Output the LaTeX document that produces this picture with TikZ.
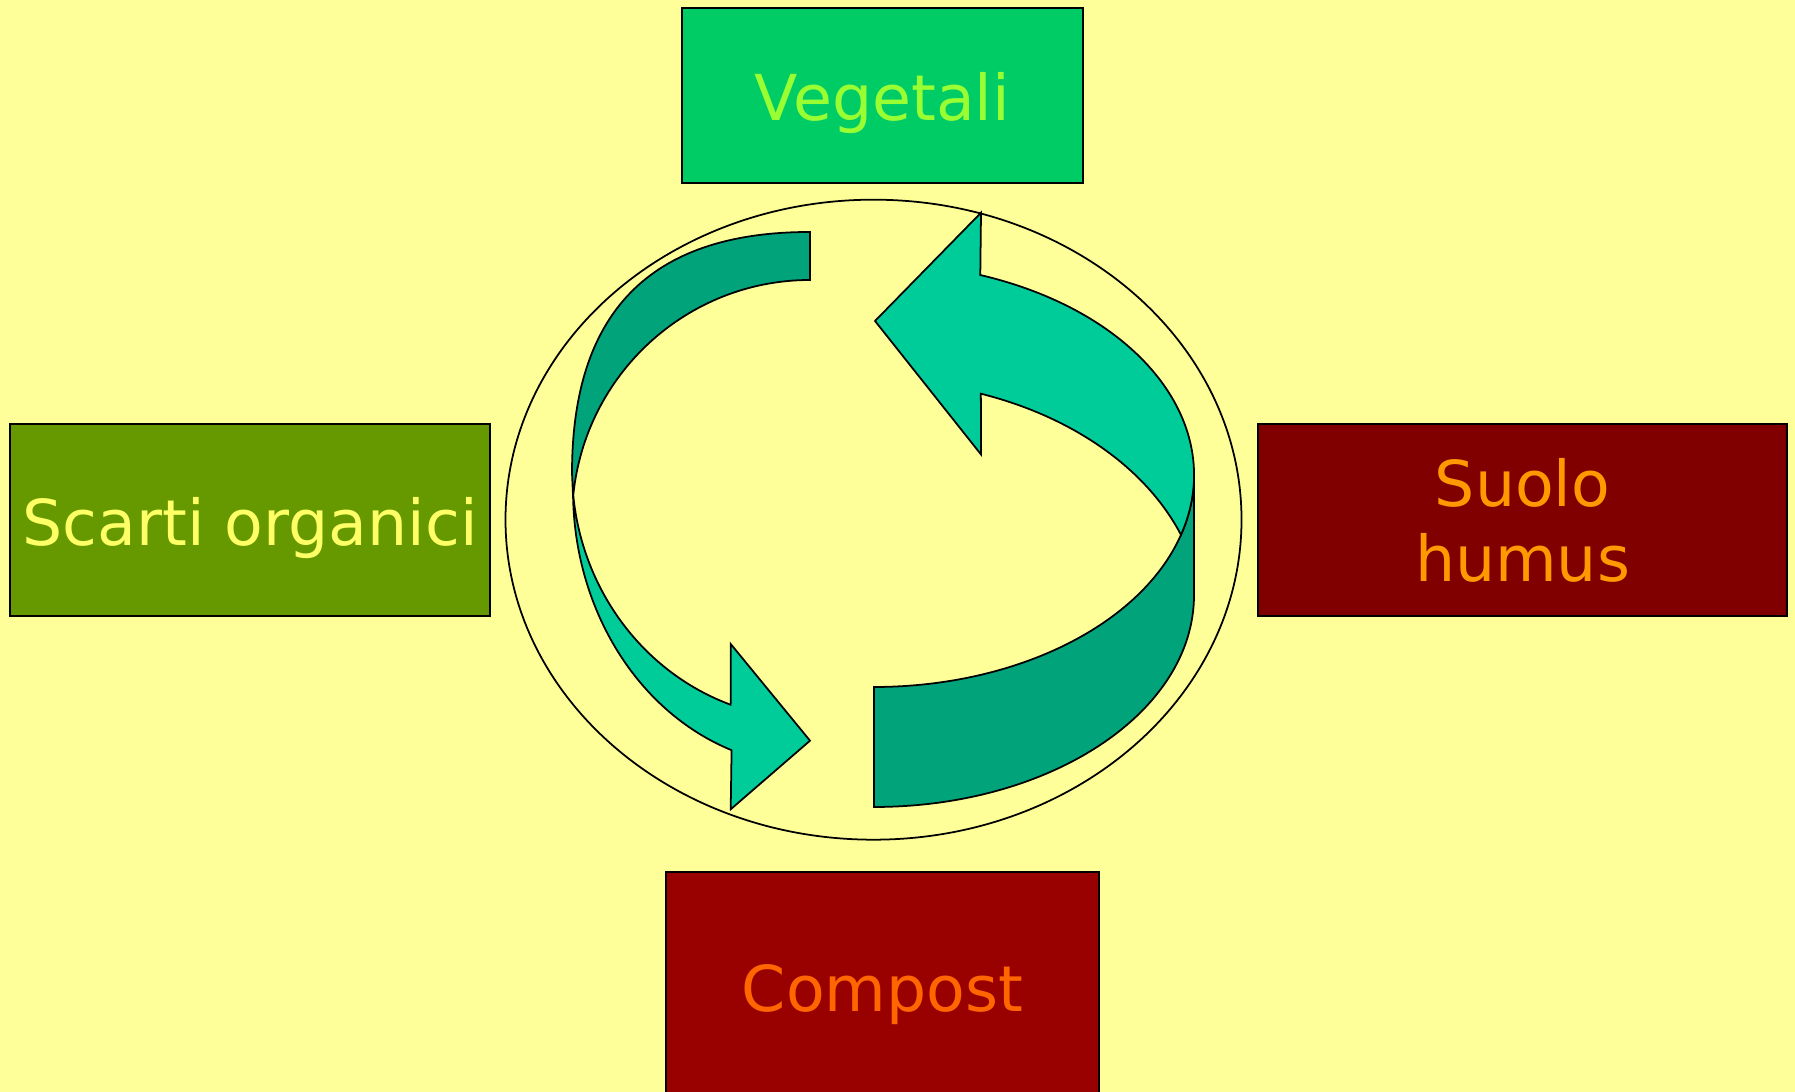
\documentclass[tikz,border=0pt]{standalone}
\usepackage{fontspec}
\setmainfont{DejaVu Sans}
\definecolor{sfondo}{HTML}{FFFF99}
\definecolor{frecciascura}{HTML}{00A37A}
\definecolor{frecciachiara}{HTML}{00CC99}
\definecolor{vegfill}{HTML}{00CC66}
\definecolor{vegtext}{HTML}{99FF33}
\definecolor{scartifill}{HTML}{669900}
\definecolor{scartitext}{HTML}{FFFF66}
\definecolor{suolofill}{HTML}{800000}
\definecolor{suolotext}{HTML}{FF9900}
\definecolor{compostfill}{HTML}{990000}
\definecolor{composttext}{HTML}{FF6600}
\begin{document}
\begin{tikzpicture}[x=0.01cm,y=0.01cm,
      box/.style={draw,line width=0.6pt,inner sep=0pt,
        font=\fontsize{18}{21.3}\selectfont},
      oneline/.style={text height=18pt,text depth=3.6pt},
      ribbon/.style={draw,line width=0.5pt,line join=miter}]
      \useasboundingbox (0,0) rectangle (1795,1092);
      \clip (0,0) rectangle (1795,1092);
      \fill[sfondo] (0,0) rectangle (1795,1092);
      % ellisse
      \coordinate (mid) at (873.5,572.3);
      \draw[line width=0.5pt] (mid) ellipse[x radius=368,y radius=320];
      % freccia a sinistra
      \coordinate (cdi) at (810,572.5);
      \coordinate (cli) at (810,622);
      \coordinate (lx) at ([shift={(174.6:238 and 239.5)}]cdi);
      \draw[ribbon,fill=frecciascura] (810,860) .. controls (670,860) and (572,799) .. (572,619)
        -- (lx) arc[start angle=174.6,end angle=90,x radius=238,y radius=239.5] -- cycle;
      \draw[ribbon,fill=frecciachiara] (lx) arc[start angle=181.25,end angle=250.5,x radius=238,y radius=275]
        -- (730.7,282.7) -- (810,351.3) -- (730.7,448) -- (730.7,389.7)
        -- ([shift={(250.5:238 and 249)}]cli) arc[start angle=250.5,end angle=186.2,x radius=238,y radius=249]
        -- cycle;
      % freccia a destra
      \coordinate (cu) at (874,617);
      \coordinate (rx) at ([shift={(-16.4:320 and 212)}]cu);
      \draw[ribbon,fill=frecciascura] (rx) arc[start angle=-16.4,end angle=-90,x radius=320,y radius=212]
        -- (874,285) arc[start angle=-90,end angle=0,x radius=320,y radius=212]
        -- (1194,617) arc[start angle=0,end angle=-16.4,x radius=320,y radius=212] -- cycle;
      \draw[ribbon,fill=frecciachiara] ([shift={(70.6:320 and 212)}]cu)
        arc[start angle=70.6,end angle=-16.4,x radius=320,y radius=212]
        arc[start angle=20.8,end angle=71,x radius=328.5,y radius=239]
        -- (981,637.5) -- (875,771) -- (981,879.3) -- cycle;
      % riquadri
      \node[box,oneline,fill=vegfill,text=vegtext,minimum width=4.01cm,minimum height=1.75cm]
        (vegetali) at (882.5,996.5) {Vegetali};
      \node[box,oneline,fill=scartifill,text=scartitext,minimum width=4.8cm,minimum height=1.92cm]
        (scarti) at (250,572) {Scarti organici};
      \node[box,align=center,fill=suolofill,text=suolotext,minimum width=5.29cm,minimum height=1.92cm]
        (suolo) at (1522.5,572) {Suolo\\humus};
      \node[box,oneline,fill=compostfill,text=composttext,minimum width=4.33cm,minimum height=2.29cm]
        (compost) at (882.5,105.5) {Compost};
\end{tikzpicture}
\end{document}
